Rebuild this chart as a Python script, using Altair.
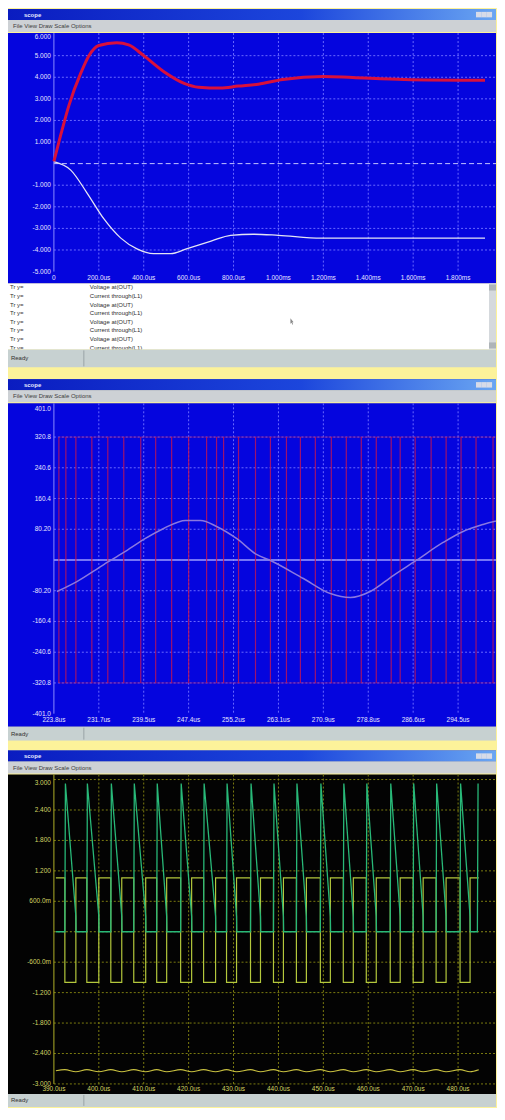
import altair as alt
import pandas as pd

# ---------------- values ----------------
# Panel 1 : time in ms
p1_t_red = [0.0, 0.031, 0.067, 0.12, 0.156, 0.2, 0.28, 0.333, 0.4, 0.49, 0.58, 0.644,
            0.742, 0.82, 0.91, 1.02, 1.2, 1.33, 1.56, 1.92]
p1_v_red = [0.1, 1.35, 2.7, 4.2, 5.0, 5.47, 5.6, 5.5, 5.0, 4.26, 3.72, 3.54,
            3.5, 3.59, 3.68, 3.9, 4.04, 3.99, 3.9, 3.86]
p1_t_wht = [0.0, 0.075, 0.147, 0.222, 0.298, 0.37, 0.444, 0.52, 0.59, 0.70, 0.787,
            0.889, 1.0, 1.19, 1.41, 1.92]
p1_v_wht = [0.09, -0.3, -1.35, -2.55, -3.45, -3.95, -4.17, -4.17, -3.95, -3.59, -3.32,
            -3.27, -3.32, -3.45, -3.45, -3.45]
p1_xticks = [0.0, 0.2, 0.4, 0.6, 0.8, 1.0, 1.2, 1.4, 1.6, 1.8]
p1_xlabels = ["0", "200.0us", "400.0us", "600.0us", "800.0us", "1.000ms", "1.200ms",
              "1.400ms", "1.600ms", "1.800ms"]
p1_yticks = [6, 5, 4, 3, 2, 1, -1, -2, -3, -4, -5]
p1_ylabels = ["6.000", "5.000", "4.000", "3.000", "2.000", "1.000", "-1.000", "-2.000",
              "-3.000", "-4.000", "-5.000"]
p1_hgrid = [5, 4, 3, 2, 1, -1, -2, -3, -4]

list_tags = ["Tr   y=", "Tr   y=", "Tr   y=", "Tr   y=", "Tr   y=", "Tr   y=", "Tr   y=", "Tr   y="]
list_names = ["Voltage at(OUT)", "Current through(L1)", "Voltage at(OUT)", "Current through(L1)",
              "Voltage at(OUT)", "Current through(L1)", "Voltage at(OUT)", "Current through(L1)"]

# Panel 2 : time in us
p2_edges = [224.67, 225.89, 227.64, 230.43, 233.22, 236.01, 238.98, 241.59, 244.38, 247.35,
            250.49, 252.23, 253.46, 256.07, 259.04, 261.65, 264.45, 266.89, 269.50, 272.29,
            274.91, 277.53, 280.15, 282.76, 284.33, 286.95, 289.74, 292.36, 294.97, 297.59,
            300.56]
p2_level = 320.8
p2_end = 302.3
p2_t_sin = [224.32, 227.81, 232.52, 236.01, 239.50, 242.99, 246.83, 249.44, 252.23, 255.72,
            259.21, 261.65, 267.41, 272.12, 275.61, 279.10, 283.11, 287.12, 291.83, 295.32,
            298.81, 302.3]
p2_v_sin = [-82.3, -56.2, -11.8, 19.6, 53.6, 82.3, 103.2, 103.2, 87.5, 56.2,
            14.4, -1.3, -48.3, -87.5, -98.0, -82.3, -40.5, -1.3, 45.7, 74.5,
            92.8, 106.0]
p2_xticks = [223.8, 231.65, 239.5, 247.35, 255.2, 263.05, 270.9, 278.75, 286.6, 294.45]
p2_xlabels = ["223.8us", "231.7us", "239.5us", "247.4us", "255.2us", "263.1us", "270.9us",
              "278.8us", "286.6us", "294.5us"]
p2_yticks = [401.0, 320.8, 240.6, 160.4, 80.2, -80.2, -160.4, -240.6, -320.8, -401.0]
p2_ylabels = ["401.0", "320.8", "240.6", "160.4", "80.20", "-80.20", "-160.4", "-240.6",
              "-320.8", "-401.0"]
p2_hgrid = [320.8, 240.6, 160.4, 80.2, -80.2, -160.4, -240.6, -320.8]

# Panel 3 : time in us
p3_fall = [392.44, 397.33, 402.67, 407.78, 412.89, 418.22, 423.33, 428.44, 433.78, 438.89,
           444.00, 449.33, 454.44, 459.56, 464.89, 470.00, 475.11, 480.44]
p3_rise = [394.89, 400.00, 405.11, 410.44, 415.11, 420.67, 426.00, 430.67, 436.00, 441.11,
           446.22, 451.56, 456.67, 461.78, 467.11, 472.22, 477.33, 482.67]
p3_start, p3_end, p3_last_fall = 390.44, 484.6, 484.3
p3_sq_hi, p3_sq_lo = 1.06, -1.0
p3_g_peak, p3_g_valley, p3_g_base = 2.92, 0.3, 0.0
p3_r_hi, p3_r_lo, p3_r_mid = -2.72, -2.76, -2.74
p3_xticks = [390, 400, 410, 420, 430, 440, 450, 460, 470, 480]
p3_xlabels = ["390.0us", "400.0us", "410.0us", "420.0us", "430.0us", "440.0us", "450.0us",
              "460.0us", "470.0us", "480.0us"]
p3_yticks = [3.0, 2.4, 1.8, 1.2, 0.6, -0.6, -1.2, -1.8, -2.4, -3.0]
p3_ylabels = ["3.000", "2.400", "1.800", "1.200", "600.0m", "-600.0m", "-1.200", "-1.800",
              "-2.400", "-3.000"]
p3_hgrid = [3.0, 2.4, 1.8, 1.2, 0.6, -0.6, -1.2, -1.8, -2.4, -3.0]

# ---------------- layout / style ----------------
W = 489
AX = 46
FONT = "Liberation Sans"
BG = "#fcf29a"
TITLE_H, MENU_H = 11, 12
BLUE = "#0505de"

TITLE_GRAD = alt.LinearGradient(
    gradient="linear",
    stops=[alt.GradientStop(color="#0a1cc0", offset=0),
           alt.GradientStop(color="#1c46dc", offset=0.6),
           alt.GradientStop(color="#6aa6f2", offset=1)],
    x1=0, x2=1, y1=0, y2=0)


def view(fill):
    return alt.ViewBackground(fill=fill, strokeWidth=0)


def spacer(h):
    return alt.Chart(pd.DataFrame({"k": [0]})).mark_rule(opacity=0).encode(
        x=alt.value(1), y=alt.value(0), y2=alt.value(1)).properties(
        width=W, height=h, view=view(BG))


def title_bar():
    base = alt.Chart(pd.DataFrame({"name": ["scope"]}))
    bar = base.mark_rect(color=TITLE_GRAD).encode(
        x=alt.value(0), x2=alt.value(W), y=alt.value(0), y2=alt.value(TITLE_H))
    txt = base.mark_text(align="left", baseline="middle", color="#e8ecff", fontSize=6,
                         font=FONT, fontWeight="bold").encode(
        text="name:N", x=alt.value(16), y=alt.value(TITLE_H / 2))
    btn = alt.Chart(pd.DataFrame({"b": ["min", "max", "close"]})).mark_square(
        size=30, color="#d6dbe8", opacity=1).encode(
        x=alt.X("b:N", scale=alt.Scale(domain=["min", "max", "close"], range=[W - 20, W - 4]),
                axis=None),
        y=alt.value(TITLE_H / 2))
    return alt.layer(bar, txt, btn).properties(width=W, height=TITLE_H, view=view("#1030d0"))


def menu_bar():
    base = alt.Chart(pd.DataFrame({"m": ["File     View     Draw     Scale     Options"]}))
    txt = base.mark_text(align="left", baseline="middle", color="#404040", fontSize=6,
                         font=FONT).encode(text="m:N", x=alt.value(5), y=alt.value(MENU_H / 2))
    return alt.layer(txt).properties(width=W, height=MENU_H, view=view("#cdd1d5"))


def status_bar(h):
    base = alt.Chart(pd.DataFrame({"s": ["Ready"]}))
    txt = base.mark_text(align="left", baseline="middle", color="#303030", fontSize=6,
                         font=FONT).encode(text="s:N", x=alt.value(3), y=alt.value(h / 2))
    div = base.mark_rule(color="#9aa4a6", strokeWidth=1).encode(
        x=alt.value(76), y=alt.value(1), y2=alt.value(h - 1))
    return alt.layer(txt, div).properties(width=W, height=h, view=view("#c7d1d1"))


def list_area(h):
    df = pd.DataFrame({"row": list(range(len(list_names))), "tag": list_tags, "name": list_names})
    ys = alt.Scale(domain=[-0.45, 7.2], nice=False, zero=False, reverse=True)
    base = alt.Chart(df)
    tag = base.mark_text(align="left", baseline="middle", color="#303030", fontSize=6,
                         font=FONT, clip=True).encode(
        text="tag:N", x=alt.value(2), y=alt.Y("row:Q", scale=ys, axis=None))
    nm = base.mark_text(align="left", baseline="middle", color="#303030", fontSize=6,
                        font=FONT, clip=True).encode(
        text="name:N", x=alt.value(82), y=alt.Y("row:Q", scale=ys, axis=None))
    deco = alt.Chart(pd.DataFrame({"k": [1]}))
    scroll = deco.mark_rect(color="#d5d9dd").encode(
        x=alt.value(W - 7), x2=alt.value(W), y=alt.value(0), y2=alt.value(h))
    arr_top = deco.mark_rect(color="#aeb4b8").encode(
        x=alt.value(W - 7), x2=alt.value(W), y=alt.value(1), y2=alt.value(7))
    arr_bot = deco.mark_rect(color="#aeb4b8").encode(
        x=alt.value(W - 7), x2=alt.value(W), y=alt.value(h - 7), y2=alt.value(h - 1))
    cursor = deco.mark_point(
        shape="M0,-1 L0,0.7 L0.35,0.35 L0.6,0.95 L0.8,0.85 L0.55,0.25 L0.95,0.25 Z",
        size=45, filled=True, color="#8a8a8a", opacity=1).encode(
        x=alt.value(283), y=alt.value(38))
    return alt.layer(tag, nm, scroll, arr_top, arr_bot, cursor).properties(
        width=W, height=h, view=view("#ffffff"))


def plot_panel(h, top, data_h, y_hi, y_lo, x0, x_step, series, xticks, xlabels,
               yticks, ylabels, hgrid, fill, grid_color, zero_color, zero_dash, zero_width,
               text_color, axis_color, rules=None):
    ypp = (y_hi - y_lo) / data_h
    ydom = [y_lo - (h - top - data_h) * ypp, y_hi + top * ypp]
    xpp = x_step / 45.0
    xdom = [x0 - AX * xpp, x0 + (W - AX) * xpp]
    xs = alt.Scale(domain=xdom, nice=False, zero=False)
    ys = alt.Scale(domain=ydom, nice=False, zero=False)
    bottom = top + data_h
    lab_y = bottom + (h - bottom) / 2.0

    layers = []
    layers.append(alt.Chart(pd.DataFrame({"t": xticks[1:]})).mark_rule(
        color=grid_color, strokeDash=[2, 2], strokeWidth=1).encode(
        x=alt.X("t:Q", scale=xs, axis=None), y=alt.value(0), y2=alt.value(bottom)))
    layers.append(alt.Chart(pd.DataFrame({"v": hgrid})).mark_rule(
        color=grid_color, strokeDash=[2, 2], strokeWidth=1).encode(
        y=alt.Y("v:Q", scale=ys, axis=None), x=alt.value(AX), x2=alt.value(W)))
    zero_kw = dict(color=zero_color, strokeWidth=zero_width)
    if zero_dash:
        zero_kw["strokeDash"] = zero_dash
    layers.append(alt.Chart(pd.DataFrame({"v": [0.0]})).mark_rule(**zero_kw).encode(
        y=alt.Y("v:Q", scale=ys, axis=None), x=alt.value(AX), x2=alt.value(W)))
    layers.append(alt.Chart(pd.DataFrame({"t": [x0]})).mark_rule(
        color=axis_color, strokeWidth=1).encode(
        x=alt.X("t:Q", scale=xs, axis=None), y=alt.value(0), y2=alt.value(bottom)))

    if rules is not None:
        n = len(rules["t"])
        rdf = pd.DataFrame({"t": rules["t"], "lo": [-rules["level"]] * n,
                            "hi": [rules["level"]] * n})
        layers.append(alt.Chart(rdf).mark_rule(
            color=rules["color"], strokeWidth=rules["width"], opacity=rules["opacity"],
            clip=True).encode(
            x=alt.X("t:Q", scale=xs, axis=None), y=alt.Y("lo:Q", scale=ys, axis=None),
            y2="hi:Q"))
        hdf = pd.DataFrame({"v": [rules["level"], -rules["level"]],
                            "t0": [rules["t"][0]] * 2, "t1": [rules["end"]] * 2})
        layers.append(alt.Chart(hdf).mark_rule(
            color=rules["color"], strokeWidth=1, opacity=0.55, clip=True).encode(
            y=alt.Y("v:Q", scale=ys, axis=None), x=alt.X("t0:Q", scale=xs, axis=None),
            x2="t1:Q"))

    for s in series:
        df = pd.DataFrame({"t": s["t"], "v": s["v"], "i": list(range(len(s["t"])))})
        layers.append(alt.Chart(df).mark_line(
            color=s["color"], strokeWidth=s["width"], interpolate=s["interp"],
            opacity=s.get("opacity", 1.0), clip=True).encode(
            x=alt.X("t:Q", scale=xs, axis=None), y=alt.Y("v:Q", scale=ys, axis=None),
            order="i:Q"))

    layers.append(alt.Chart(pd.DataFrame({"t": xticks, "lab": xlabels})).mark_text(
        color=text_color, fontSize=6.5, font=FONT, baseline="middle").encode(
        x=alt.X("t:Q", scale=xs, axis=None), y=alt.value(lab_y), text="lab:N"))
    ydf = pd.DataFrame({"v": yticks, "lab": ylabels})
    layers.append(alt.Chart(ydf.iloc[1:]).mark_text(
        color=text_color, fontSize=6.5, font=FONT, baseline="middle", align="right").encode(
        y=alt.Y("v:Q", scale=ys, axis=None), x=alt.value(AX - 3), text="lab:N"))
    layers.append(alt.Chart(ydf.iloc[:1]).mark_text(
        color=text_color, fontSize=6.5, font=FONT, baseline="top", align="right").encode(
        y=alt.Y("v:Q", scale=ys, axis=None), x=alt.value(AX - 3), text="lab:N"))
    return alt.layer(*layers).properties(width=W, height=h, view=view(fill))


# ---------- panel 1 ----------
panel1 = plot_panel(
    h=251, top=1, data_h=238, y_hi=6, y_lo=-5, x0=0.0, x_step=0.2,
    series=[dict(t=p1_t_wht, v=p1_v_wht, color="#e4e4f4", width=1.3, interp="monotone"),
            dict(t=p1_t_red, v=p1_v_red, color="#d8103c", width=3, interp="monotone")],
    xticks=p1_xticks, xlabels=p1_xlabels, yticks=p1_yticks, ylabels=p1_ylabels,
    hgrid=p1_hgrid, fill=BLUE, grid_color="#6a6aff", zero_color="#c4c4ff",
    zero_dash=[5, 3], zero_width=1, text_color="#e6e6ff", axis_color="#8c8cff")

# ---------- panel 2 ----------
panel2 = plot_panel(
    h=324, top=3, data_h=308, y_hi=401.0, y_lo=-401.0, x0=223.8, x_step=7.85,
    series=[dict(t=p2_t_sin, v=p2_v_sin, color="#8a78e0", width=1.5, interp="monotone")],
    xticks=p2_xticks, xlabels=p2_xlabels, yticks=p2_yticks, ylabels=p2_ylabels,
    hgrid=p2_hgrid, fill=BLUE, grid_color="#6a6aff", zero_color="#9c9cff",
    zero_dash=None, zero_width=1.3, text_color="#e6e6ff", axis_color="#8c8cff",
    rules=dict(t=p2_edges, level=p2_level, end=p2_end, color="#b8145c", width=1.2,
               opacity=0.85))

# ---------- panel 3 ----------
sq_t, sq_v = [p3_start], [p3_sq_hi]
gr_t, gr_v = [p3_start], [p3_g_base]
rp_t, rp_v = [p3_start], [p3_r_mid]
for f, r in zip(p3_fall, p3_rise):
    sq_t += [f, r]
    sq_v += [p3_sq_lo, p3_sq_hi]
    gr_t += [f, f + 0.12, r, r + 0.05]
    gr_v += [p3_g_base, p3_g_peak, p3_g_valley, p3_g_base]
    rp_t += [f, r]
    rp_v += [p3_r_hi, p3_r_lo]
sq_t.append(p3_end)
sq_v.append(p3_sq_hi)
gr_t += [p3_last_fall, p3_last_fall + 0.15]
gr_v += [p3_g_base, p3_g_peak]
rp_t.append(p3_end)
rp_v.append(p3_r_hi)

panel3 = plot_panel(
    h=320, top=5, data_h=305, y_hi=3.0, y_lo=-3.0, x0=390, x_step=10,
    series=[dict(t=rp_t, v=rp_v, color="#c8c040", width=1.2, interp="monotone"),
            dict(t=sq_t, v=sq_v, color="#b4c83c", width=1.2, interp="step-after"),
            dict(t=gr_t, v=gr_v, color="#28b878", width=1.3, interp="linear")],
    xticks=p3_xticks, xlabels=p3_xlabels, yticks=p3_yticks, ylabels=p3_ylabels,
    hgrid=p3_hgrid, fill="#030303", grid_color="#7c7c10", zero_color="#8a8a18",
    zero_dash=[2, 2], zero_width=1, text_color="#d4d464", axis_color="#b0b028")

win1 = alt.vconcat(title_bar(), menu_bar(), panel1, list_area(66), status_bar(18), spacing=0)
win2 = alt.vconcat(title_bar(), menu_bar(), panel2, status_bar(14), spacing=0)
win3 = alt.vconcat(title_bar(), menu_bar(), panel3, status_bar(13), spacing=0)

chart = alt.vconcat(win1, spacer(12), win2, spacer(10), win3, spacing=0).properties(
    background=BG, padding=0).configure_view(strokeWidth=0)

chart.save("out.html", embed_options={"renderer": "svg", "actions": False})
